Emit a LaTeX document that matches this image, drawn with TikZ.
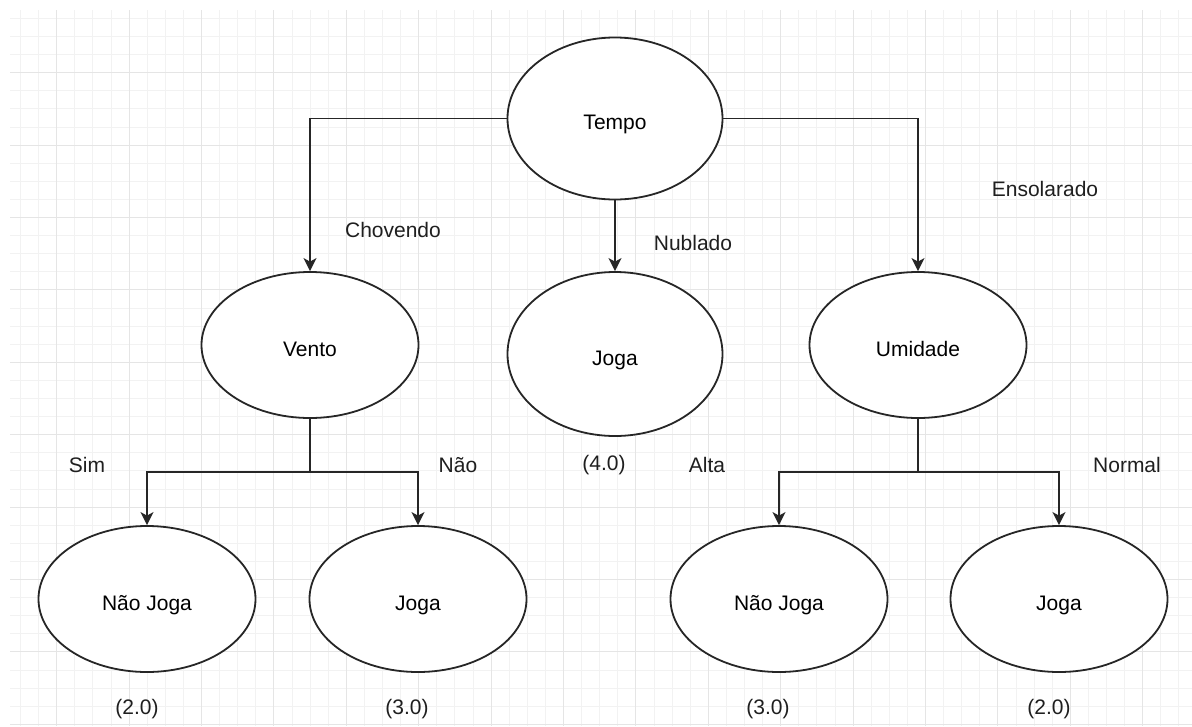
\documentclass[tikz,border=0pt]{standalone}
\usepackage{fontspec}
\setmainfont{Liberation Sans}
\usetikzlibrary{shapes.geometric,arrows.meta,calc}

\tikzset{
  oval/.style={ellipse, draw=black!85, line width=1.8pt, fill=white,
    minimum width=217pt, minimum height=146pt, inner sep=0pt,
    text height=22pt, text depth=0pt,
    font=\fontsize{21}{25}\selectfont},
  tag/.style={inner sep=0pt, font=\fontsize{21}{25}\selectfont, text=black!88},
  link/.style={draw=black!85, line width=1.8pt,
    -{Stealth[length=13pt,width=13pt,inset=3.5pt]}},
  stem/.style={draw=black!85, line width=1.8pt},
  minorgrid/.style={draw=black!5, line width=0.9pt},
  majorgrid/.style={draw=black!10, line width=1pt},
}

\begin{document}
\begin{tikzpicture}[x=1pt,y=-1pt]
\useasboundingbox (0,0) rectangle (1192,726);
\fill[white] (0,0) rectangle (1192,726);

% background grid: fine lines every 18.1, heavier every fourth one
\begin{scope}
  \clip (10,10) rectangle (1192,726);
  \foreach \i in {0,...,66} {
    \pgfmathsetmacro{\gx}{2.4+18.1*\i}
    \draw[minorgrid] (\gx,10) -- (\gx,726);
  }
  \foreach \i in {0,...,40} {
    \pgfmathsetmacro{\gy}{0.3+18.1*\i}
    \draw[minorgrid] (10,\gy) -- (1192,\gy);
  }
  \foreach \i in {0,...,16} {
    \pgfmathsetmacro{\gx}{-15.7+72.4*\i}
    \draw[majorgrid] (\gx,10) -- (\gx,726);
  }
  \foreach \i in {0,...,10} {
    \pgfmathsetmacro{\gy}{0.3+72.4*\i}
    \draw[majorgrid] (10,\gy) -- (1192,\gy);
  }
\end{scope}

% tree nodes
\node[oval, minimum width=215pt, minimum height=162pt] (tempo) at (615,118.5) {Tempo};
\node[oval] (vento) at (310,345) {Vento};
\node[oval, minimum width=215pt, minimum height=164pt] (jogaM) at (615,354) {Joga};
\node[oval] (umid) at (918,345) {Umidade};
\node[oval] (naoL) at (147,599) {Não Joga};
\node[oval] (jogaL) at (418,599) {Joga};
\node[oval] (naoR) at (779,599) {Não Joga};
\node[oval] (jogaR) at (1059,599) {Joga};

% branches from the root
\draw[link] (tempo.west) -| (vento.north);
\draw[link] (tempo.south) -- (jogaM.north);
\draw[link] (tempo.east) -| (umid.north);

% branches from Vento and Umidade
\coordinate (vsplit) at ($(vento.south)+(0,53)$);
\coordinate (usplit) at ($(umid.south)+(0,53)$);
\draw[stem] (vento.south) -- (vsplit);
\draw[link] (vsplit) -| (naoL.north);
\draw[link] (vsplit) -| (jogaL.north);
\draw[stem] (umid.south) -- (usplit);
\draw[link] (usplit) -| (naoR.north);
\draw[link] (usplit) -| (jogaR.north);

% edge labels
\node[tag] (lChov) at (393,230) {Chovendo};
\node[tag] (lNub) at (693,243) {Nublado};
\node[tag] (lEns) at (1045,189) {Ensolarado};
\node[tag] (lSim) at (87,465) {Sim};
\node[tag] (lNao) at (458,465) {Não};
\node[tag] (lAlta) at (707,465) {Alta};
\node[tag] (lNorm) at (1127,465) {Normal};

% leaf counts
\node[tag] (cM) at (604,465) {(4.0)};
\node[tag] (c1) at (137,709) {(2.0)};
\node[tag] (c2) at (407,709) {(3.0)};
\node[tag] (c3) at (768,709) {(3.0)};
\node[tag] (c4) at (1049,709) {(2.0)};
\end{tikzpicture}
\end{document}
